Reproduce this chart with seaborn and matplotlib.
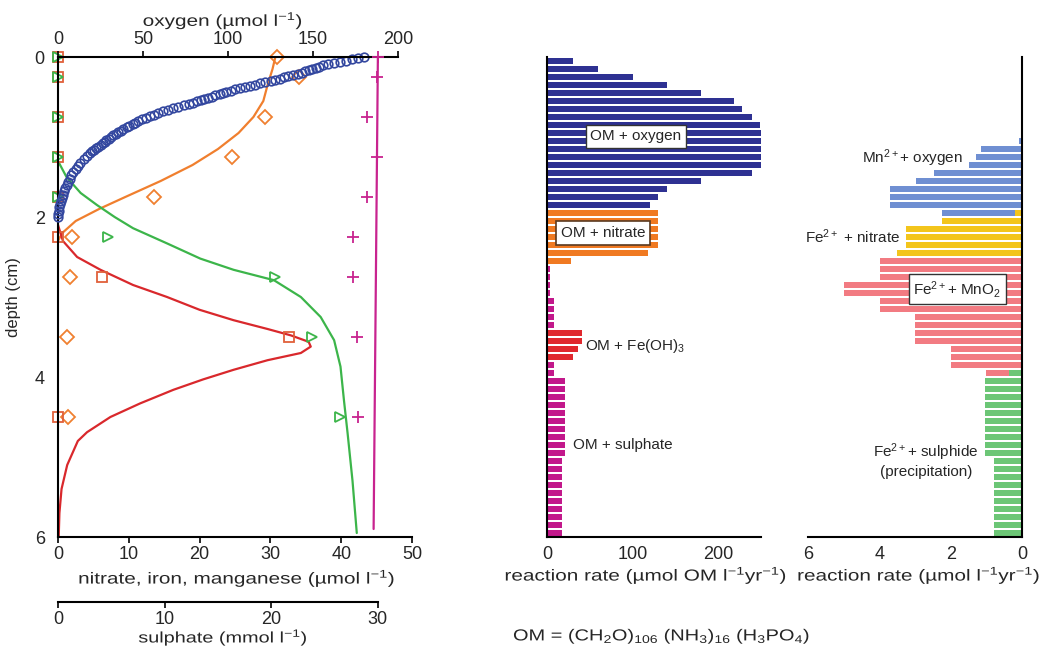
import numpy as np
import pandas as pd
import matplotlib
matplotlib.use("Agg")
import matplotlib.pyplot as plt
from matplotlib import patheffects
from matplotlib.transforms import Affine2D
from matplotlib.ticker import FixedLocator
import seaborn as sns

sns.set_style("white")
plt.rcParams['font.family'] = ['Liberation Sans', 'DejaVu Sans']
plt.rcParams['mathtext.fontset'] = 'custom'
plt.rcParams['mathtext.rm'] = 'Liberation Sans'
plt.rcParams['mathtext.it'] = 'Liberation Sans:italic'
plt.rcParams['mathtext.bf'] = 'Liberation Sans:bold'
plt.rcParams['mathtext.default'] = 'regular'

# ---- porewater profiles (left panel) ----
# oxygen model profile (grid is finer near the surface)
o2_depth = np.round(np.r_[np.arange(41) * 0.015, 0.62 + np.arange(30) * 0.02,
                          1.24 + np.arange(20) * 0.04], 3)
o2_conc = [180, 176.5, 173, 169.5, 166, 162.5, 159, 156, 153.5, 151.5, 149.5,
           147.5, 145.5, 143.5, 141, 138, 135.5, 133, 130.5, 127.5, 125, 122,
           119, 116, 113, 110, 107, 104, 101.5, 99, 97, 95, 92.5, 90.5, 88.5, 86,
           84, 82, 79.5, 77, 74,
           70.5, 67.5, 64.5, 61.5, 59, 56.5, 54, 52, 49.5, 47, 45.5, 44, 42, 40.5,
           38.5, 37, 35.5, 34, 32.5, 31, 29.8, 28.5, 27.4, 26.2, 25, 23.8, 22.6,
           21.4, 20.2, 19,
           17, 15, 13.2, 11.6, 10.3, 9.1, 7.9, 6.9, 6.0, 5.1, 4.3, 3.6, 2.9, 2.2,
           1.6, 1.1, 0.7, 0.4, 0.15, 0]

no3_line_depth = [0, 0.15, 0.35, 0.55, 0.75, 0.95, 1.15, 1.35, 1.55, 1.75, 1.9, 2.05, 2.2, 2.3]
no3_line = [30.7, 30.3, 29.6, 29.0, 27.6, 25.5, 22.6, 19.0, 14.5, 9.5, 5.8, 2.5, 0.6, 0.0]

fe_line_depth = [2.1, 2.3, 2.5, 2.66, 2.85, 3.0, 3.16, 3.29, 3.4, 3.48, 3.56, 3.62, 3.7,
                 3.79, 3.91, 4.03, 4.16, 4.33, 4.5, 4.69, 4.8, 5.1, 5.4, 5.7, 6.0]
fe_line = [0.0, 0.7, 2.7, 6.0, 10.6, 15.4, 20.0, 24.8, 29.6, 32.9, 35.4, 35.7, 34.3,
           29.6, 24.8, 20.5, 16.3, 11.6, 7.4, 4.1, 2.8, 1.3, 0.5, 0.2, 0.1]

mn_line_depth = [1.3, 1.5, 1.7, 1.85, 2.0, 2.14, 2.33, 2.52, 2.66, 2.79, 3.0, 3.25,
                 3.54, 3.87, 4.3, 4.7, 5.3, 5.95]
mn_line = [0, 1.2, 3.2, 5.5, 8.0, 10.6, 15.4, 20.1, 24.8, 30.5, 34.3, 37.1,
           39.0, 39.9, 40.4, 40.9, 41.6, 42.2]

so4_line_depth = [0, 5.9]
so4_line = [30.0, 29.6]

# measured samples
sample_depth = [0, 0.25, 0.75, 1.25, 1.75, 2.25, 2.75, 3.5, 4.5]
no3_obs = [30.9, 34.0, 29.3, 24.6, 13.6, 2.0, 1.7, 1.3, 1.4]
fe_obs = [0, 0, 0, 0, 0, 0, 6.2, 32.6, 0]
mn_obs = [0, 0, 0, 0, 0, 7.1, 30.7, 35.9, 39.9]
so4_obs = [30.0, 29.9, 29.0, 29.9, 29.0, 27.7, 27.7, 28.0, 28.1]

# ---- reaction rates, 0.1 cm bins ----
bin_depth = np.round(np.arange(60) * 0.1 + 0.05, 3)
om_rate = [30, 60, 100, 140, 180, 218, 228, 239, 249, 258, 258, 258, 258, 258,
           240, 180, 140, 130, 120,
           130, 130, 130, 130, 130, 118, 28,
           4, 4, 4, 4, 8, 8, 8, 8,
           41, 41, 36, 30,
           8, 8] + [21] * 10 + [17] * 10
om_process = (['oxygen'] * 19 + ['nitrate'] * 7 + ['sulphate'] * 8 +
              ['iron'] * 4 + ['sulphate'] * 22)

sec_rate = [0] * 10 + [0.08, 1.14, 1.3, 1.49, 2.48, 2.98, 3.69, 3.69, 3.69, 2.24,
                       2.24, 3.24, 3.24, 3.24, 3.5,
                       3.99, 3.99, 3.99, 4.99, 4.99, 3.99, 3.99, 3.0, 3.0, 3.0, 3.0,
                       2.0, 2.0, 2.0, 1.0] + [1.05] * 10 + [0.79] * 10
sec_process = (['mn_ox'] * 20 + ['fe_no3'] * 5 + ['fe_mno2'] * 15 + ['fe_s'] * 20)
sec_inner = [0] * 19 + [0.19] + [0] * 19 + [0.36] + [0] * 20
sec_inner_process = ['fe_no3'] * 20 + ['fe_s'] * 40

om_colors = {'oxygen': '#2e3192', 'nitrate': '#f07a22', 'sulphate': '#c2188b',
             'iron': '#e0282e'}
sec_colors = {'mn_ox': '#6f8fd2', 'fe_no3': '#f3c51c', 'fe_mno2': '#f27b82',
              'fe_s': '#6cc676'}


class Stretch(patheffects.AbstractPathEffect):
    """Widen text horizontally about its centre (the original lettering is wide)."""

    def __init__(self, sx):
        super().__init__()
        self.sx = sx

    def draw_path(self, renderer, gc, tpath, affine, rgbFace=None):
        v = tpath.vertices
        cx = (v[:, 0].min() + v[:, 0].max()) / 2
        aff = Affine2D().translate(-cx, 0).scale(self.sx, 1).translate(cx, 0) + affine
        renderer.draw_path(gc, tpath, aff, rgbFace)


wide = [Stretch(1.3)]

W, H = 1042, 648
fig = plt.figure(figsize=(W / 100, H / 100), dpi=100)


def frac(x0, y0, x1, y1):
    return [x0 / W, 1 - y1 / H, (x1 - x0) / W, (y1 - y0) / H]


def below(px):
    # axes-fraction offset for a label top placed at pixel row px
    return -(px - 537) / 480


tick_kw = dict(direction='out', length=4.5, width=1.2, labelsize=13, color='black')
lab_kw = dict(fontsize=11.5, path_effects=wide)

# ---------------- left panel ----------------
ax = fig.add_axes(frac(58, 57, 412, 537))
ax.set_xlim(0, 50)
ax.set_ylim(6, 0)
for s in ['top', 'right']:
    ax.spines[s].set_visible(False)
for s in ['left', 'bottom']:
    ax.spines[s].set_color('black')
    ax.spines[s].set_linewidth(1.5)
ax.spines['bottom'].set_bounds(0, 50)
ax.set_xticks([0, 10, 20, 30, 40, 50])
ax.set_yticks([0, 2, 4, 6])
ax.tick_params(axis='x', pad=2, **tick_kw)
ax.tick_params(axis='y', pad=5, **tick_kw)
ax.set_xlabel('nitrate, iron, manganese (µmol l$^{-1}$)', **lab_kw)
ax.xaxis.set_label_coords((237 - 58) / 354, below(567))
ax.set_ylabel('depth (cm)', fontsize=12, labelpad=10)

line_kw = dict(orient='y', estimator=None, linewidth=1.6, legend=False, ax=ax)
sns.lineplot(x=no3_line, y=no3_line_depth, color='#f07f2e', **line_kw)
sns.lineplot(x=fe_line, y=fe_line_depth, color='#d9282c', **line_kw)
sns.lineplot(x=mn_line, y=mn_line_depth, color='#3cb54a', **line_kw)

mk_kw = dict(orient='y', estimator=None, linestyle='none', legend=False,
             clip_on=False, ax=ax)
sns.lineplot(x=no3_obs, y=sample_depth, marker='D', ms=7, mfc='none',
             mec='#f08030', mew=1.3, **mk_kw)
sns.lineplot(x=fe_obs, y=sample_depth, marker='s', ms=7, mfc='none',
             mec='#e0603a', mew=1.3, **mk_kw)
sns.lineplot(x=mn_obs, y=sample_depth, marker='>', ms=7, mfc='none',
             mec='#3cb54a', mew=1.3, **mk_kw)

# oxygen axis on top
ax_o = ax.twiny()
ax_o.set_xlim(0, 208.2)
ax_o.set_ylim(6, 0)
for s in ['bottom', 'left', 'right']:
    ax_o.spines[s].set_visible(False)
ax_o.spines['top'].set_bounds(0, 200)
ax_o.spines['top'].set_linewidth(1.5)
ax_o.spines['top'].set_color('black')
ax_o.set_xticks([0, 50, 100, 150, 200])
ax_o.tick_params(axis='x', pad=2, **tick_kw)
ax_o.set_xlabel('oxygen (µmol l$^{-1}$)', **lab_kw)
ax_o.xaxis.set_label_coords((223 - 58) / 354, 1.0 + 31 / 480)
sns.lineplot(x=o2_conc, y=o2_depth, orient='y', estimator=None, linestyle='none',
             marker='o', ms=6.2, mfc='none', mec='#33479f', mew=1.2, legend=False,
             clip_on=False, ax=ax_o)

# sulphate axis below
ax_s = ax.twiny()
ax_s.set_xlim(0, 33.2)
ax_s.set_ylim(6, 0)
ax_s.xaxis.set_ticks_position('bottom')
ax_s.xaxis.set_label_position('bottom')
for s in ['top', 'left', 'right']:
    ax_s.spines[s].set_visible(False)
ax_s.spines['bottom'].set_visible(True)
ax_s.spines['bottom'].set_position(('outward', 47))
ax_s.spines['bottom'].set_bounds(0, 30)
ax_s.spines['bottom'].set_linewidth(1.5)
ax_s.spines['bottom'].set_color('black')
ax_s.set_xticks([0, 10, 20, 30])
ax_s.tick_params(axis='x', pad=1.5, **tick_kw)
ax_s.set_xlabel('sulphate (mmol l$^{-1}$)', fontsize=11, path_effects=wide)
ax_s.xaxis.set_label_coords((223 - 58) / 354, below(627))
sns.lineplot(x=so4_line, y=so4_line_depth, orient='y', estimator=None,
             color='#c8238f', linewidth=1.6, legend=False, ax=ax_s)
sns.lineplot(x=so4_obs, y=sample_depth, orient='y', estimator=None, linestyle='none',
             marker='+', ms=9, mec='#c8238f', mew=1.3, legend=False,
             clip_on=False, ax=ax_s)

# ---------------- middle panel: OM degradation ----------------
ax_m = fig.add_axes(frac(547, 57, 761, 537))
mid = pd.DataFrame({'depth': bin_depth, 'rate': om_rate, 'process': om_process})
sns.barplot(data=mid, x='rate', y='depth', hue='process', palette=om_colors,
            orient='y', native_scale=True, width=0.78, dodge=False, legend=False,
            errorbar=None, saturation=1, linewidth=0, ax=ax_m)
ax_m.set_xlim(0, 250)
ax_m.set_ylim(6, 0)
for s in ['top', 'right']:
    ax_m.spines[s].set_visible(False)
for s in ['left', 'bottom']:
    ax_m.spines[s].set_color('black')
    ax_m.spines[s].set_linewidth(1.5)
ax_m.set_yticks([])
ax_m.set_xticks([0, 100, 200])
ax_m.xaxis.set_minor_locator(FixedLocator([50, 150, 250]))
ax_m.tick_params(axis='x', which='both', pad=2, **tick_kw)
ax_m.set_xlabel('reaction rate (µmol OM l$^{-1}$yr$^{-1}$)', **lab_kw)
ax_m.xaxis.set_label_coords((646 - 547) / 214, below(564))
ax_m.set_ylabel('')

box = dict(boxstyle='square,pad=0.3', fc='white', ec='#333333', lw=1)
ax_m.text(104, 0.99, 'OM + oxygen', fontsize=11, ha='center', va='center', bbox=box)
ax_m.text(65.5, 2.2, 'OM + nitrate', fontsize=11, ha='center', va='center',
          bbox=dict(boxstyle='square,pad=0.3', fc='white', ec='#5a3a20', lw=1.2))
ax_m.text(44, 3.61, 'OM + Fe(OH)$_3$', fontsize=11, ha='left', va='center')
ax_m.text(30, 4.85, 'OM + sulphate', fontsize=11, ha='left', va='center')

# ---------------- right panel: secondary reactions ----------------
ax_r = fig.add_axes(frac(808, 57, 1022, 537))
sec = pd.DataFrame({'depth': bin_depth, 'rate': sec_rate, 'process': sec_process})
sec_in = pd.DataFrame({'depth': bin_depth, 'rate': sec_inner,
                       'process': sec_inner_process})
bar_kw = dict(orient='y', native_scale=True, width=0.78, dodge=False, legend=False,
              errorbar=None, saturation=1, linewidth=0, palette=sec_colors, ax=ax_r)
sns.barplot(data=sec, x='rate', y='depth', hue='process', **bar_kw)
sns.barplot(data=sec_in, x='rate', y='depth', hue='process', **bar_kw)
ax_r.set_xlim(6, 0)
ax_r.set_ylim(6, 0)
for s in ['top', 'left']:
    ax_r.spines[s].set_visible(False)
for s in ['right', 'bottom']:
    ax_r.spines[s].set_color('black')
    ax_r.spines[s].set_linewidth(1.5)
ax_r.set_yticks([])
ax_r.set_xticks([6, 4, 2, 0])
ax_r.tick_params(axis='x', pad=2, **tick_kw)
ax_r.set_xlabel('reaction rate (µmol l$^{-1}$yr$^{-1}$)', **lab_kw)
ax_r.xaxis.set_label_coords((919 - 808) / 214, below(564))
ax_r.set_ylabel('')

ax_r.text(4.48, 1.26, 'Mn$^{2+}$+ oxygen', fontsize=11, ha='left', va='center')
ax_r.text(6.08, 2.24, 'Fe$^{2+}$ + nitrate', fontsize=11, ha='left', va='center',
          clip_on=False)
ax_r.text(1.82, 2.9, 'Fe$^{2+}$+ MnO$_2$', fontsize=11, ha='center', va='center',
          bbox=box)
ax_r.text(2.69, 5.04, 'Fe$^{2+}$+ sulphide\n(precipitation)', fontsize=11,
          ha='center', va='center', linespacing=1.1)

fig.text(662 / W, 1 - 636 / H,
         'OM = (CH$_2$O)$_{106}$ (NH$_3$)$_{16}$ (H$_3$PO$_4$)',
         fontsize=11.5, ha='center', va='center', path_effects=[Stretch(1.25)])

fig.savefig('out.png', dpi=100, facecolor='white')
